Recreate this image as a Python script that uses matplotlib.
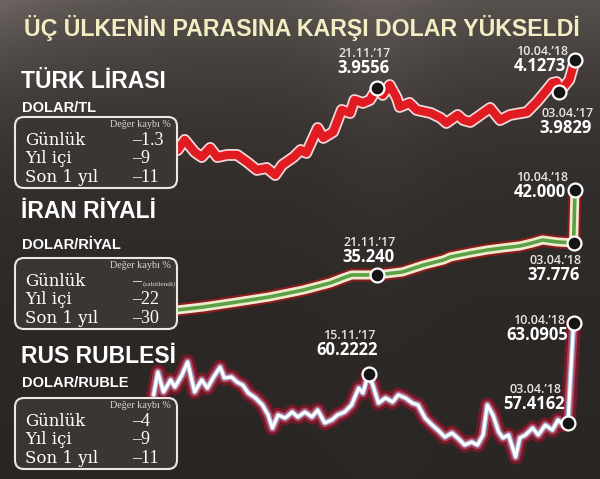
import numpy as np
import matplotlib.pyplot as plt
from matplotlib.patches import FancyBboxPatch
from matplotlib.colors import LinearSegmentedColormap

W, H = 600, 479

# gün: 10.04.2018'e göre gün farkı
tl_days = [-281, -276, -269, -264, -258, -253, -246, -239, -232, -225,
           -218, -212, -207, -199, -194, -190, -182, -178, -171, -165,
           -159, -156, -150, -145, -140, -136, -131, -126, -124, -117,
           -112, -102, -95, -91, -83, -79, -74, -67, -60, -53,
           -46, -34, -27, -20, -16, -13, -11, -4, 0]
tl_vals = [3.575, 3.637, 3.563, 3.532, 3.588, 3.532, 3.545, 3.545, 3.502, 3.453,
           3.465, 3.422, 3.484, 3.532, 3.575, 3.557, 3.710, 3.649, 3.686, 3.821,
           3.802, 3.882, 3.864, 3.882, 3.956, 3.913, 3.974, 3.894, 3.839, 3.864,
           3.821, 3.802, 3.772, 3.741, 3.790, 3.759, 3.747, 3.790, 3.833, 3.759,
           3.790, 3.808, 3.870, 3.943, 3.986, 3.992, 3.931, 4.005, 4.127]
tl_marks = [-140, -11, 0]

ir_days = [-281, -263, -239, -216, -192, -173, -164, -158, -150, -140,
           -122, -107, -93, -88, -74, -62, -51, -39, -30, -23,
           -13, -1, 0]
ir_vals = [32.47, 32.70, 33.10, 33.50, 34.05, 34.61, 35.00, 35.24, 35.24, 35.24,
           35.48, 36.03, 36.43, 36.67, 36.98, 37.22, 37.38, 37.54, 37.78, 38.01,
           37.86, 37.776, 42.000]
ir_marks = [-140, -1, 0]

ru_days = [-298, -295, -291, -286, -283, -278, -274, -269, -264, -260,
           -256, -251, -248, -243, -239, -235, -231, -226, -221, -217,
           -214, -210, -205, -200, -196, -191, -186, -182, -177, -172,
           -168, -163, -158, -153, -150, -146, -143, -139, -134, -129,
           -125, -120, -115, -111, -106, -101, -97, -92, -87, -83,
           -78, -73, -69, -65, -62, -58, -54, -51, -47, -42,
           -39, -35, -30, -26, -21, -16, -12, -8, -5, -1]
ru_vals = [59.01, 60.31, 59.18, 59.86, 59.46, 60.14, 60.88, 59.18, 59.86, 59.40,
           59.97, 60.59, 59.97, 60.03, 59.74, 59.57, 59.12, 58.84, 58.44, 57.87,
           57.13, 57.87, 57.70, 58.04, 57.76, 58.04, 57.76, 58.15, 57.42, 57.59,
           57.87, 58.04, 58.44, 59.40, 59.12, 60.22, 59.57, 58.55, 58.84, 58.61,
           59.01, 58.84, 58.55, 58.44, 57.70, 57.30, 57.02, 56.62, 56.85, 56.57,
           56.17, 56.34, 56.17, 56.74, 58.44, 57.87, 56.91, 56.57, 56.74, 55.49,
           56.57, 56.74, 57.13, 56.74, 57.30, 57.02, 57.59, 57.30, 57.42, 63.09]
ru_marks = [-146, -5, -1]

rows = ['Günlük', 'Yıl içi', 'Son 1 yıl']
tl_loss = ['–1.3', '–9', '–11']
ir_loss = ['–', '–22', '–30']
ru_loss = ['–4', '–9', '–11']

HEAD = ['Liberation Sans', 'DejaVu Sans']
NUM = ['Open Sans', 'DejaVu Sans']
SLAB = ['DejaVu Serif']
SERIF = ['Liberation Serif', 'DejaVu Serif']

fig = plt.figure(figsize=(6, 4.79), dpi=100)
fig.patch.set_facecolor('#2b2725')

# arka plan
bg = fig.add_axes([0, 0, 1, 1], zorder=0)
yy, xx = np.mgrid[0:H, 0:W]
shade = np.exp(-yy / 110.0) * 0.8 + np.exp(-((xx - 380) / 60.0) ** 2 - yy / 150.0) * 0.25 \
    + np.exp(-(xx + yy) / 70.0) * 0.5
cmap = LinearSegmentedColormap.from_list('bg', ['#2a2624', '#4e4845', '#6a635f'])
bg.imshow(shade, cmap=cmap, vmin=0, vmax=1.2, aspect='auto', extent=(0, W, H, 0))
bg.axis('off')

XL = (-575 / 1.414, 25 / 1.414)


def panel(ylim):
    ax = fig.add_axes([0, 0, 1, 1], zorder=2)
    ax.set_xlim(*XL)
    ax.set_ylim(*ylim)
    ax.axis('off')
    return ax


def dots(ax, days, vals, marks, face='#151515'):
    my = np.interp(marks, days, vals)
    ax.plot(marks, my, 'o', ms=10, mfc=face, mec='white', mew=1.6, zorder=5)


kw = dict(solid_capstyle='round', solid_joinstyle='round')

ax1 = panel((1.558, 4.495))
ax1.plot(tl_days, tl_vals, color='#f3dada', lw=8.5, **kw)
ax1.plot(tl_days, tl_vals, color='#e11b22', lw=6, **kw)
dots(ax1, tl_days, tl_vals, tl_marks)

ax2 = panel((19.07, 57.03))
ax2.plot(ir_days, ir_vals, color='#8a1c1c', lw=9.5, **kw)
ax2.plot(ir_days, ir_vals, color='#f0ead0', lw=6.5, **kw)
ax2.plot(ir_days, ir_vals, color='#5ba246', lw=2.6, **kw)
dots(ax2, ir_days, ir_vals, ir_marks)

ax3 = panel((54.24, 81.42))
ax3.plot(ru_days, ru_vals, color='#6e1b27', lw=11, **kw)
ax3.plot(ru_days, ru_vals, color='#b0405a', lw=6.5, **kw)
ax3.plot(ru_days, ru_vals, color='#9fb4d6', lw=3.8, **kw)
ax3.plot(ru_days, ru_vals, color='white', lw=2.2, **kw)
dots(ax3, ru_days, ru_vals, ru_marks)

# metin katmanı (piksel koordinatları)
ov = fig.add_axes([0, 0, 1, 1], zorder=4)
ov.set_xlim(0, W)
ov.set_ylim(H, 0)
ov.axis('off')

ov.text(302, 36, 'ÜÇ ÜLKENİN PARASINA KARŞI DOLAR YÜKSELDİ', ha='center', va='baseline',
        color='#f2eec4', fontsize=16.7, fontweight='bold', family=HEAD)

heads = [('TÜRK LİRASI', 'DOLAR/TL', 88, 112, 117, tl_loss),
         ('İRAN RİYALİ', 'DOLAR/RİYAL', 218, 249, 258, ir_loss),
         ('RUS RUBLESİ', 'DOLAR/RUBLE', 363, 387, 398, ru_loss)]
for big, small, yb, ys, ybox, loss in heads:
    ov.text(21, yb, big, ha='left', va='baseline', color='white', fontsize=16.5,
            fontweight='bold', family=HEAD)
    ov.text(22, ys, small, ha='left', va='baseline', color='white', fontsize=10.5,
            fontweight='bold', family=HEAD)
    box = FancyBboxPatch((15, ybox), 162, 71, boxstyle='round,pad=0,rounding_size=9',
                         fc='#3a3634', ec='#ece8e4', lw=1.5, zorder=3)
    ov.add_patch(box)
    ov.text(171, ybox + 10, 'Değer kaybı %', ha='right', va='baseline', color='#d9d6d2',
            fontsize=7.3, family=SERIF)
    for i, (r, v) in enumerate(zip(rows, loss)):
        yr = ybox + 28 + i * 18.3
        ov.text(25, yr, r, ha='left', va='baseline', color='white', fontsize=12,
                family=SLAB)
        ov.text(132, yr, v, ha='left', va='baseline', color='white', fontsize=13,
                family=SERIF)
ov.text(143, 286, '(sabitlendi)', ha='left', va='baseline', color='#d9d6d2',
        fontsize=5.2, family=SERIF)

labels = [(365, 57, '21.11.’17', '3.9556'), (542, 55, '10.04.’18', '4.1273'),
          (568, 117, '03.04.’17', '3.9829'),
          (542, 181, '10.04.’18', '42.000'), (370, 246, '21.11.’17', '35.240'),
          (556, 264, '03.04.’18', '37.776'),
          (539, 324, '10.04.’18', '63.0905'), (349, 339, '15.11.’17', '60.2222'),
          (536, 393, '03.04.’18', '57.4162')]
for x, y, d, v in labels:
    ov.text(x, y, d, ha='center', va='baseline', color='#e8e6e4', fontsize=9,
            fontweight='semibold', family=NUM)
    ov.text(x - 2, y + 16, v, ha='center', va='baseline', color='white', fontsize=12,
            fontweight='bold', family=NUM)

fig.savefig('out.png', dpi=100, facecolor=fig.get_facecolor())
